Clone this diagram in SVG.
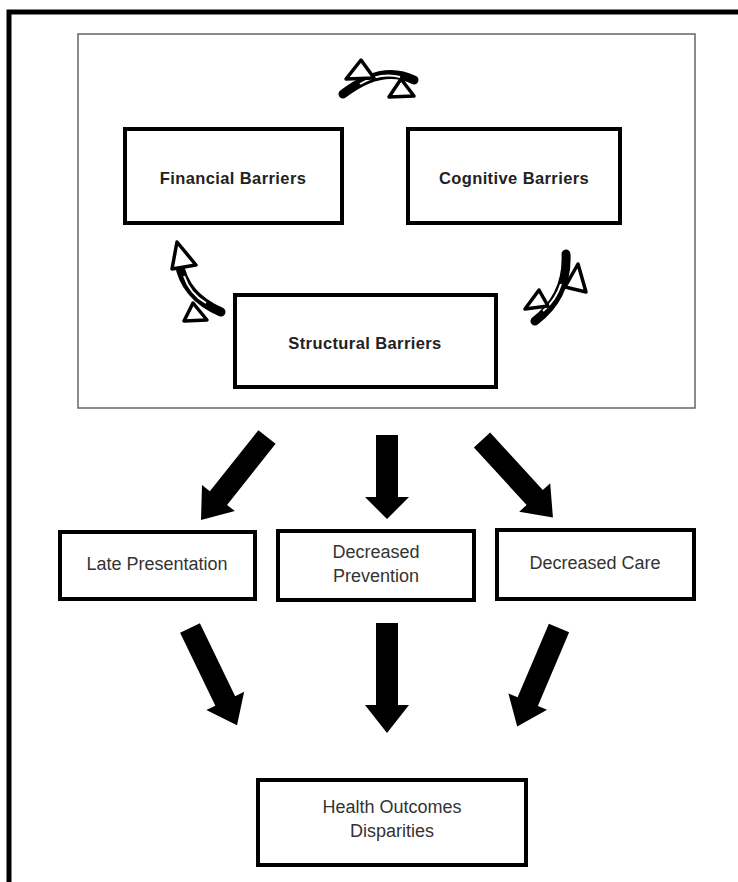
<svg xmlns="http://www.w3.org/2000/svg" width="738" height="882" viewBox="0 0 738 882">
<style>
.box{fill:#fff;stroke:#000;stroke-width:4}
.lbl{font-family:"Liberation Sans",Arial,sans-serif;font-size:18px;fill:#333;text-anchor:middle}
.bold{font-weight:bold;font-size:16.5px;fill:#222;letter-spacing:0.4px}
.blk{fill:#000}
.band{fill:none;stroke:#000;stroke-width:9;stroke-linecap:round}
.gap{fill:none;stroke:#fff;stroke-width:2}
.tri{fill:#fff;stroke:#000;stroke-width:3.5;stroke-linejoin:round}
</style>
<rect width="738" height="882" fill="#fff"/>
<rect x="9" y="12" width="760" height="900" fill="none" stroke="#000" stroke-width="5"/>
<rect id="barrier-frame" x="78" y="34" width="617" height="374" fill="none" stroke="#666" stroke-width="1.5"/>

<g id="financial">
<rect class="box" x="125" y="129" width="217" height="94"/>
<text class="lbl bold" x="233" y="184">Financial Barriers</text>
</g>
<g id="cognitive">
<rect class="box" x="408" y="129" width="212" height="94"/>
<text class="lbl bold" x="514" y="184">Cognitive Barriers</text>
</g>
<g id="structural">
<rect class="box" x="235" y="295" width="261" height="92"/>
<text class="lbl bold" x="365" y="349">Structural Barriers</text>
</g>
<g id="late">
<rect class="box" x="60" y="532" width="195" height="67"/>
<text class="lbl" x="157" y="570">Late Presentation</text>
</g>
<g id="prevention">
<rect class="box" x="278" y="531" width="196" height="69"/>
<text class="lbl" x="376" y="558">Decreased</text>
<text class="lbl" x="376" y="582">Prevention</text>
</g>
<g id="care">
<rect class="box" x="497" y="530" width="197" height="69"/>
<text class="lbl" x="595" y="569">Decreased Care</text>
</g>
<g id="health">
<rect class="box" x="258" y="780" width="268" height="85"/>
<text class="lbl" x="392" y="813">Health Outcomes</text>
<text class="lbl" x="392" y="837">Disparities</text>
</g>

<g id="connectors">
<g id="cycle-top">
<path class="band" d="M343,94 Q382,64 414,80"/>
<path class="gap" d="M360,84 Q380,72 400,77"/>
<polygon class="tri" points="346,79 361,60 374,78"/>
<polygon class="tri" points="389,97 401,79 414,96"/>
</g>
<g id="cycle-left">
<path class="band" d="M179,262 Q184,296 221,312"/>
<path class="gap" d="M184,276 Q190,294 206,303"/>
<polygon class="tri" points="172,269 177,242 196,265"/>
<polygon class="tri" points="184,321 193,303 207,320"/>
</g>
<g id="cycle-right">
<path class="band" d="M566,254 Q568,296 535,321"/>
<path class="gap" d="M561,284 Q556,300 543,311"/>
<polygon class="tri" points="565,287 578,264 586,292"/>
<polygon class="tri" points="525,309 539,290 548,306"/>
</g>

<polygon class="blk" transform="translate(267,437) rotate(38.5)" points="-11,0 11,0 11,78 21,78 0,106 -21,78 -11,78"/>
<polygon class="blk" transform="translate(387,435)" points="-11,0 11,0 11,62 22,62 0,84 -22,62 -11,62"/>
<polygon class="blk" transform="translate(482,440) rotate(-42.5)" points="-11,0 11,0 11,78 21,78 0,105 -21,78 -11,78"/>

<polygon class="blk" transform="translate(190,628) rotate(-25.8)" points="-11,0 11,0 11,81 21,81 0,108 -21,81 -11,81"/>
<polygon class="blk" transform="translate(387,623)" points="-11,0 11,0 11,82 22,82 0,110 -22,82 -11,82"/>
<polygon class="blk" transform="translate(559,628) rotate(23)" points="-11,0 11,0 11,80 21,80 0,107 -21,80 -11,80"/>
</g>
</svg>
